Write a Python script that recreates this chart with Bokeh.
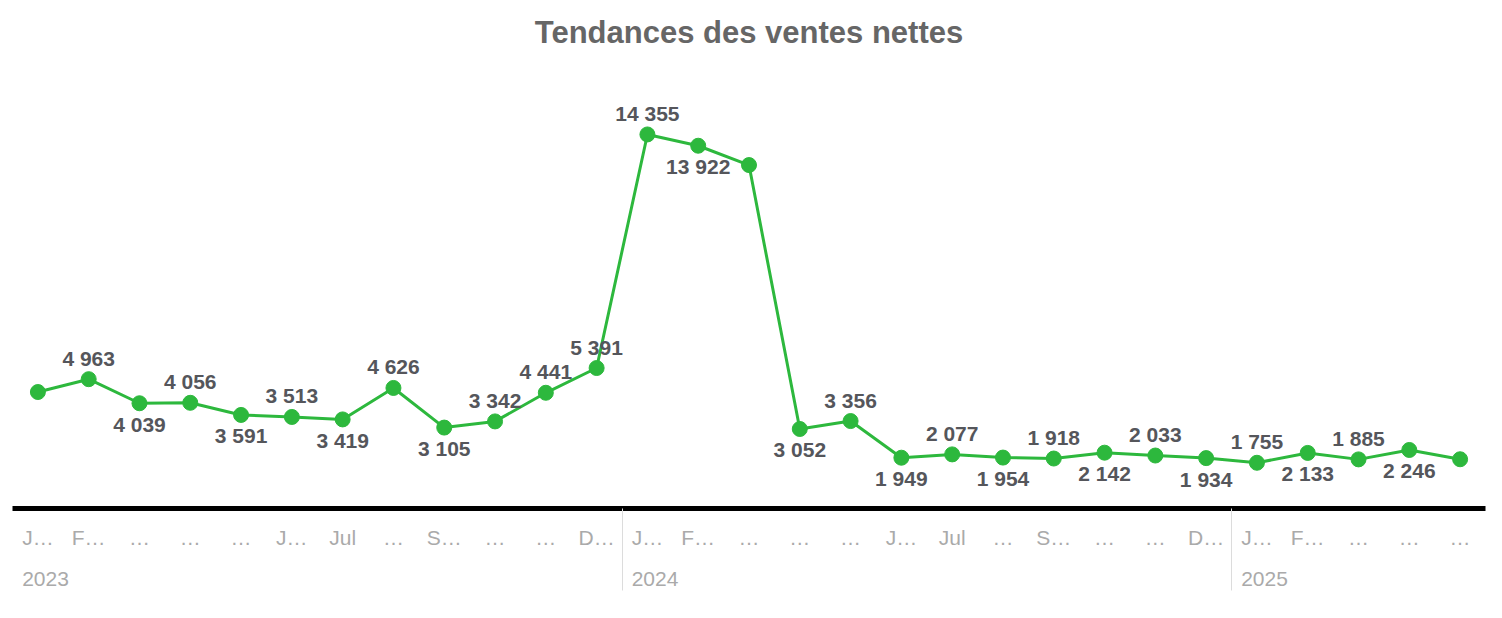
from bokeh.plotting import figure
from bokeh.models import ColumnDataSource, FixedTicker, LinearAxis, Range1d
from bokeh.core.properties import value
from bokeh.embed import file_html
from bokeh.resources import INLINE

# ---- data ----
title_text = "Tendances des ventes nettes"
years = ["2023", "2024", "2025"]
months_per_year = [12, 12, 5]
month_labels = ["J…", "F…", "…", "…", "…", "J…", "Jul", "…", "S…", "…", "…", "D…"]
net_sales = [4470, 4963, 4039, 4056, 3591, 3513, 3419, 4626, 3105, 3342, 4441, 5391,
             14355, 13922, 13180, 3052, 3356, 1949, 2077, 1954, 1918, 2142, 2033, 1934,
             1755, 2133, 1885, 2246, 1890]
# where each value label sits: "a" above, "b" below, "" hidden
label_side = ["", "a", "b", "a", "b", "a", "b", "a", "b", "a", "a", "a",
              "a", "b", "", "b", "a", "b", "a", "b", "a", "b", "a", "b",
              "a", "b", "a", "b", ""]

# ---- derived ----
x = list(range(len(net_sales)))
tick_labels = []
year_starts = []
pos = 0
for n in months_per_year:
    year_starts.append(pos)
    tick_labels += month_labels[:n]
    pos += n
separators = [s - 0.5 for s in year_starts[1:]]


def fmt(v):
    return f"{v:,}".replace(",", " ")


GREEN = "#2db83d"
FONT = "Liberation Sans"

p = figure(width=1486, height=600,
           x_range=Range1d(-0.5, len(x) - 0.5), y_range=Range1d(0, 17500),
           output_backend="svg", toolbar_location=None, y_axis_location=None,
           min_border_left=12, min_border_right=1, min_border_top=52, min_border_bottom=92,
           title=title_text)

p.title.align = "center"
p.title.text_font = FONT
p.title.text_font_size = "31px"
p.title.text_font_style = "bold"
p.title.text_color = "#666666"
p.title.standoff = 6

p.xgrid.visible = False
p.ygrid.visible = False
p.outline_line_color = None
p.background_fill_color = "white"
p.border_fill_color = "white"

# month axis (minor ticks draw the year separators)
ax = p.xaxis[0]
ax.ticker = FixedTicker(ticks=x, minor_ticks=separators)
ax.major_label_overrides = {i: t for i, t in zip(x, tick_labels)}
ax.axis_line_color = "black"
ax.axis_line_width = 5
ax.major_tick_line_color = None
ax.major_tick_out = 0
ax.major_tick_in = 0
ax.minor_tick_in = 0
ax.minor_tick_out = 82
ax.minor_tick_line_color = "#dcdcdc"
ax.minor_tick_line_width = 1
ax.major_label_text_font = FONT
ax.major_label_text_font_size = "21px"
ax.major_label_text_color = "#aaaaaa"
ax.major_label_standoff = -65

# year axis
year_ticks = [s + 0.15 for s in year_starts]
yax = LinearAxis(ticker=FixedTicker(ticks=year_ticks, minor_ticks=[]))
yax.major_label_overrides = {t: y for t, y in zip(year_ticks, years)}
yax.axis_line_color = None
yax.major_tick_line_color = None
yax.minor_tick_line_color = None
yax.major_tick_out = 0
yax.major_tick_in = 0
yax.major_label_text_font = FONT
yax.major_label_text_font_size = "21px"
yax.major_label_text_color = "#aaaaaa"
yax.major_label_standoff = 20
p.add_layout(yax, "below")

src = ColumnDataSource(dict(x=x, y=net_sales))
p.line("x", "y", source=src, line_color=GREEN, line_width=3)
p.scatter("x", "y", source=src, size=15, fill_color=GREEN, line_color=GREEN)

above = ColumnDataSource(dict(
    x=[i for i, s in zip(x, label_side) if s == "a"],
    y=[v for v, s in zip(net_sales, label_side) if s == "a"],
    t=[fmt(v) for v, s in zip(net_sales, label_side) if s == "a"]))
below = ColumnDataSource(dict(
    x=[i for i, s in zip(x, label_side) if s == "b"],
    y=[v for v, s in zip(net_sales, label_side) if s == "b"],
    t=[fmt(v) for v, s in zip(net_sales, label_side) if s == "b"]))

for s, off in ((above, -21), (below, 21)):
    p.text("x", "y", text="t", source=s, y_offset=off,
           text_align="center", text_baseline="alphabetic",
           text_font=value(FONT), text_font_size="21px", text_font_style="bold",
           text_color="#55565b")

open("out.html", "w").write(file_html(p, INLINE))
